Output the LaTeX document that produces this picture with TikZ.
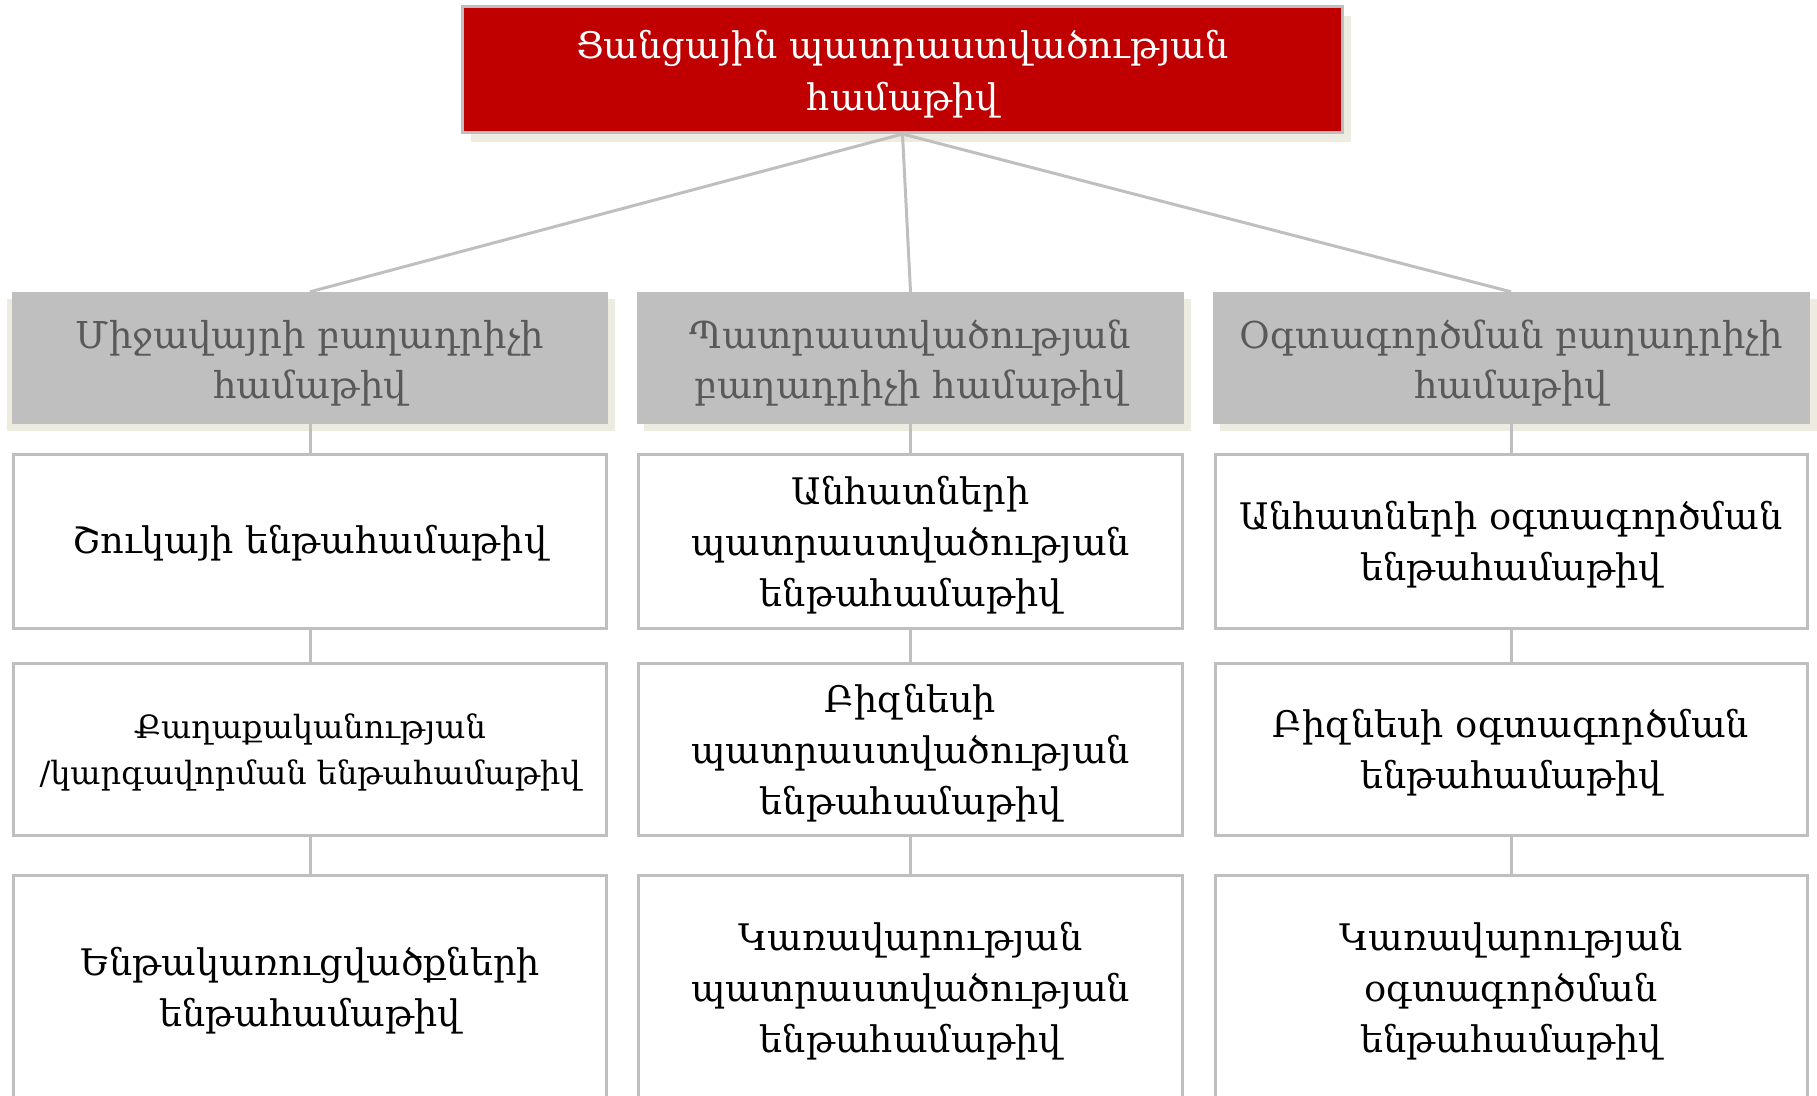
\documentclass[tikz,border=0pt]{standalone}
\usepackage{fontspec}
\setmainfont{DejaVu Serif}
\usetikzlibrary{shadows}
\definecolor{redc}{HTML}{C00000}
\definecolor{grayb}{HTML}{BFBFBF}
\definecolor{hdtext}{HTML}{595959}
\definecolor{shd}{HTML}{EEECE1}
\begin{document}
\begin{tikzpicture}[x=1pt,y=-1pt,
  txt/.style={inner sep=0pt, align=center, font=\fontsize{36.6}{51}\selectfont},
  topbox/.style={draw=grayb, line width=3pt, fill=redc, inner sep=0pt,
    minimum width=880pt, minimum height=126pt,
    drop shadow={shadow xshift=8pt, shadow yshift=-9pt, fill=shd, opacity=1}},
  toptext/.style={txt, text=white, font=\fontsize{36.6}{52}\selectfont},
  headbox/.style={fill=grayb, inner sep=0pt, minimum height=132pt,
    drop shadow={shadow xshift=7pt, shadow yshift=-7pt, fill=shd, opacity=1}},
  headtext/.style={txt, text=hdtext, font=\fontsize{37}{50}\selectfont},
  cellbox/.style={draw=grayb, line width=3pt, fill=white, inner sep=0pt},
  celltext/.style={txt, text=black},
  conn/.style={draw=grayb, line width=3pt}
]
\useasboundingbox (0,0) rectangle (1817,1095);
\clip (0,0) rectangle (1817,1095);

% top
\node[topbox] (top) at (902.5,69.5) {};
\node[toptext] (ttop) at ([yshift=-5pt]top.center) {Ցանցային պատրաստվածության\\համաթիվ};

% headers
\node[headbox, minimum width=596pt,
  drop shadow={shadow xshift=-5pt, shadow yshift=-7pt, fill=shd, opacity=1}]
  (h1) at (310,358) {};
\node[headbox, minimum width=547pt] (h2) at (910.5,358) {};
\node[headbox, minimum width=597pt] (h3) at (1511,358) {};
\node[headtext] (th1) at ([yshift=-5pt]h1.center) {Միջավայրի բաղադրիչի\\համաթիվ};
\node[headtext] (th2) at ([yshift=-5pt]h2.center) {Պատրաստվածության\\բաղադրիչի համաթիվ};
\node[headtext] (th3) at ([yshift=-5pt]h3.center) {Օգտագործման բաղադրիչի\\համաթիվ};

% row 1
\node[cellbox, minimum width=593pt, minimum height=174pt] (r11) at (310,541.5) {};
\node[cellbox, minimum width=544pt, minimum height=174pt] (r12) at (910.5,541.5) {};
\node[cellbox, minimum width=592pt, minimum height=174pt] (r13) at (1511,541.5) {};
\node[celltext] (t11) at ([yshift=-2pt]r11.center) {Շուկայի ենթահամաթիվ};
\node[celltext] (t12) at ([yshift=-4pt]r12.center) {Անհատների\\պատրաստվածության\\ենթահամաթիվ};
\node[celltext] (t13) at ([yshift=-3pt]r13.center) {Անհատների օգտագործման\\ենթահամաթիվ};

% row 2
\node[cellbox, minimum width=593pt, minimum height=172pt] (r21) at (310,749.5) {};
\node[cellbox, minimum width=544pt, minimum height=172pt] (r22) at (910.5,749.5) {};
\node[cellbox, minimum width=592pt, minimum height=172pt] (r23) at (1511,749.5) {};
\node[celltext, font=\fontsize{32}{46}\selectfont] (t21) at ([yshift=-3pt]r21.center) {Քաղաքականության\\/կարգավորման ենթահամաթիվ};
\node[celltext] (t22) at ([yshift=-4pt]r22.center) {Բիզնեսի\\պատրաստվածության\\ենթահամաթիվ};
\node[celltext] (t23) at ([yshift=-3pt]r23.center) {Բիզնեսի օգտագործման\\ենթահամաթիվ};

% row 3
\node[cellbox, minimum width=593pt, minimum height=226pt] (r31) at (310,988) {};
\node[cellbox, minimum width=544pt, minimum height=226pt] (r32) at (910.5,988) {};
\node[cellbox, minimum width=592pt, minimum height=226pt] (r33) at (1511,988) {};
\node[celltext] (t31) at ([yshift=-3pt]r31.center) {Ենթակառուցվածքների\\ենթահամաթիվ};
\node[celltext] (t32) at ([yshift=-3pt]r32.center) {Կառավարության\\պատրաստվածության\\ենթահամաթիվ};
\node[celltext] (t33) at ([yshift=-3pt]r33.center) {Կառավարության\\օգտագործման\\ենթահամաթիվ};

% connectors
\draw[conn] (top.south) -- (h1.north);
\draw[conn] (top.south) -- (h2.north);
\draw[conn] (top.south) -- (h3.north);
\foreach \c in {1,2,3} {
  \draw[conn] (h\c.south) -- (r1\c.north);
  \draw[conn] (r1\c.south) -- (r2\c.north);
  \draw[conn] (r2\c.south) -- (r3\c.north);
}
\end{tikzpicture}
\end{document}
